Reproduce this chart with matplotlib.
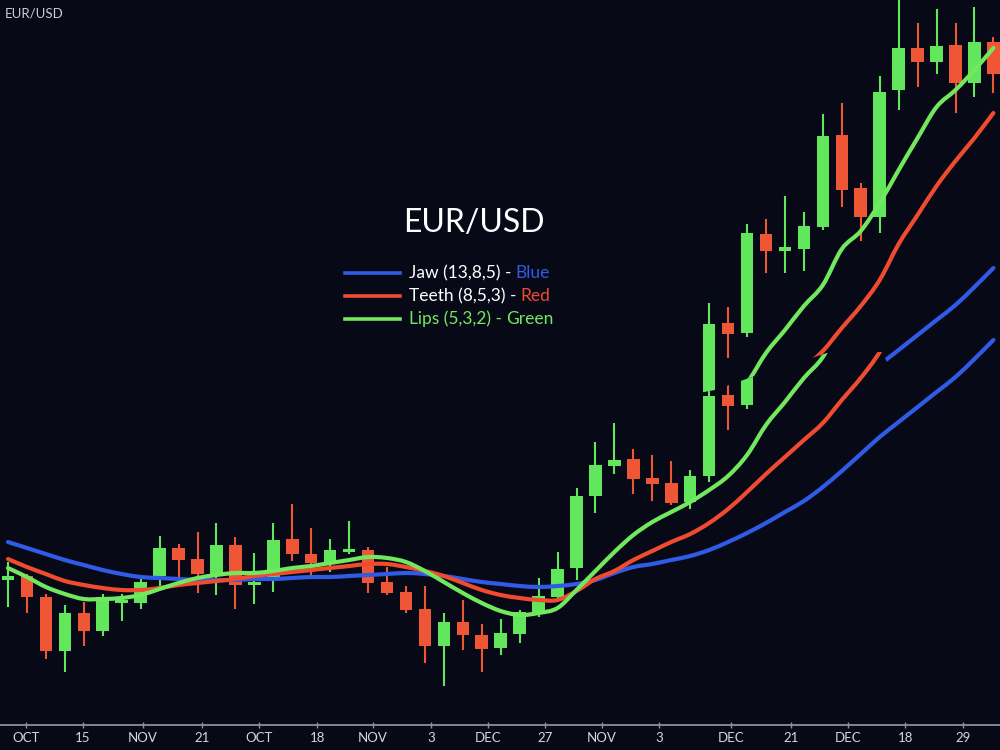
import matplotlib
matplotlib.use("Agg")
import matplotlib.pyplot as plt
from matplotlib.patches import Polygon, PathPatch
from matplotlib.path import Path
from matplotlib.lines import Line2D
import numpy as np

plt.rcParams['font.family'] = ['Lato', 'DejaVu Sans']

# ---------------- data ----------------
opens = [1.0145, 1.0149, 1.0128, 1.0074, 1.0112, 1.0094, 1.0122, 1.0122, 1.0149, 1.0177,
         1.0166, 1.0151, 1.0180, 1.0140, 1.0148, 1.0186, 1.0171, 1.0162, 1.0173, 1.0175,
         1.0143, 1.0133, 1.0116, 1.0079, 1.0103, 1.0090, 1.0077, 1.0091, 1.0113, 1.0128,
         1.0157, 1.0229, 1.0259, 1.0266, 1.0247, 1.0242, 1.0223, 1.0249, 1.0330, 1.0320,
         1.0419, 1.0402, 1.0404, 1.0426, 1.0518, 1.0465, 1.0436, 1.0563, 1.0605, 1.0591,
         1.0608, 1.0570, 1.0611]
highs = [1.0163, 1.0151, 1.0131, 1.0120, 1.0123, 1.0131, 1.0131, 1.0150, 1.0189, 1.0181,
         1.0193, 1.0202, 1.0188, 1.0172, 1.0202, 1.0221, 1.0197, 1.0186, 1.0204, 1.0178,
         1.0158, 1.0139, 1.0139, 1.0112, 1.0125, 1.0101, 1.0106, 1.0115, 1.0147, 1.0173,
         1.0237, 1.0283, 1.0302, 1.0276, 1.0270, 1.0264, 1.0255, 1.0350, 1.0346, 1.0429,
         1.0434, 1.0457, 1.0441, 1.0539, 1.0550, 1.0470, 1.0577, 1.0658, 1.0630, 1.0644,
         1.0630, 1.0646, 1.0616]
lows = [1.0118, 1.0112, 1.0066, 1.0053, 1.0079, 1.0089, 1.0104, 1.0116, 1.0138, 1.0146,
        1.0132, 1.0130, 1.0116, 1.0121, 1.0133, 1.0164, 1.0150, 1.0153, 1.0171, 1.0132,
        1.0130, 1.0112, 1.0062, 1.0039, 1.0075, 1.0053, 1.0070, 1.0082, 1.0108, 1.0126,
        1.0145, 1.0212, 1.0251, 1.0231, 1.0224, 1.0220, 1.0216, 1.0243, 1.0295, 1.0316,
        1.0380, 1.0380, 1.0382, 1.0423, 1.0446, 1.0412, 1.0420, 1.0543, 1.0566, 1.0579,
        1.0540, 1.0556, 1.0560]
closes = [1.0149, 1.0128, 1.0074, 1.0112, 1.0094, 1.0128, 1.0124, 1.0143, 1.0177, 1.0165,
          1.0151, 1.0180, 1.0140, 1.0143, 1.0185, 1.0171, 1.0162, 1.0175, 1.0176, 1.0142,
          1.0132, 1.0115, 1.0079, 1.0103, 1.0090, 1.0076, 1.0092, 1.0113, 1.0129, 1.0156,
          1.0229, 1.0260, 1.0265, 1.0246, 1.0241, 1.0222, 1.0249, 1.0329, 1.0319, 1.0420,
          1.0402, 1.0406, 1.0427, 1.0517, 1.0463, 1.0436, 1.0561, 1.0605, 1.0591, 1.0607,
          1.0570, 1.0611, 1.0579]

jaw = [1.0183, 1.0177, 1.0171, 1.0165, 1.0160, 1.0155, 1.0151, 1.0148, 1.0147, 1.0146,
       1.0145, 1.0145, 1.0145, 1.0146, 1.0146, 1.0147, 1.0148, 1.0148, 1.0149, 1.0150,
       1.0151, 1.0152, 1.0151, 1.0149, 1.0146, 1.0143, 1.0141, 1.0139, 1.0138, 1.0139,
       1.0141, 1.0145, 1.0152, 1.0158, 1.0161, 1.0165, 1.0169, 1.0175, 1.0183, 1.0192,
       1.0202, 1.0213, 1.0224, 1.0238, 1.0254, 1.0271, 1.0288, 1.0303, 1.0318, 1.0333,
       1.0348, 1.0366, 1.0385]
teeth = [1.0166, 1.0158, 1.0151, 1.0144, 1.0140, 1.0137, 1.0135, 1.0135, 1.0137, 1.0140,
         1.0142, 1.0144, 1.0146, 1.0149, 1.0151, 1.0153, 1.0155, 1.0157, 1.0159, 1.0161,
         1.0161, 1.0158, 1.0154, 1.0149, 1.0142, 1.0135, 1.0130, 1.0127, 1.0125, 1.0125,
         1.0134, 1.0146, 1.0154, 1.0165, 1.0174, 1.0183, 1.0191, 1.0202, 1.0216, 1.0233,
         1.0251, 1.0268, 1.0285, 1.0302, 1.0325, 1.0347, 1.0373, 1.0409, 1.0438, 1.0467,
         1.0492, 1.0515, 1.0540]
lips = [1.0157, 1.0148, 1.0138, 1.0131, 1.0126, 1.0126, 1.0127, 1.0130, 1.0136, 1.0142,
        1.0147, 1.0150, 1.0152, 1.0152, 1.0154, 1.0157, 1.0159, 1.0162, 1.0165, 1.0168,
        1.0167, 1.0163, 1.0154, 1.0143, 1.0132, 1.0122, 1.0114, 1.0110, 1.0112, 1.0117,
        1.0135, 1.0154, 1.0173, 1.0190, 1.0203, 1.0213, 1.0223, 1.0235, 1.0249, 1.0270,
        1.0300, 1.0323, 1.0347, 1.0368, 1.0404, 1.0422, 1.0450, 1.0483, 1.0515, 1.0546,
        1.0563, 1.0583, 1.0605]

tick_positions = [0.95, 3.96, 7.12, 10.24, 13.25, 16.31, 19.26, 22.32, 25.33, 28.34,
                  31.35, 34.35, 38.15, 41.32, 44.33, 47.34, 50.40]
tick_labels = ["OCT", "15", "NOV", "21", "OCT", "18", "NOV", "3", "DEC", "27",
               "NOV", "3", "DEC", "21", "DEC", "18", "29"]

title = "EUR/USD"
corner_label = "EUR/USD"
legend_main = ["Jaw (13,8,5) -", "Teeth (8,5,3) -", "Lips (5,3,2) -"]
legend_tail = ["Blue", "Red", "Green"]

# the photographed screen shows an upper slice displaced by this amount
ghost_shift = 0.0072

# ---------------- style ----------------
BG = "#070a16"
UP = "#62e65c"
DOWN = "#ef5636"
BLUE = "#2f5be6"
RED = "#f04a30"
GREEN = "#72e85e"
W, H = 1000, 750

fig = plt.figure(figsize=(10, 7.5), dpi=100, facecolor=BG)
ax = fig.add_axes([0, 25 / H, 1, 725 / H], facecolor=BG)
ax.set_xlim(-8 / 18.95, 992 / 18.95)
ax.set_ylim(1.0000, 1.0725)


def px_poly(pts):
    return Polygon([(px / W, 1 - py / H) for px, py in pts], closed=True,
                   transform=fig.transFigure)


upper_clip = px_poly([(699, 0), (1000, 0), (1000, 300), (890, 368), (882, 352),
                      (827, 353), (752, 377), (715, 390), (699, 393)])
lower_clip = px_poly([(0, 0), (699, 0), (699, 393), (715, 390), (752, 377),
                      (827, 353), (882, 352), (890, 368), (1000, 300),
                      (1000, 760), (0, 760)])

x = np.arange(len(opens))


def smooth_path(xs, ys):
    """Catmull-Rom curve through the data points, as cubic Bezier segments."""
    pts = np.column_stack([xs, ys]).astype(float)
    ext = np.vstack([pts[0], pts, pts[-1]])
    verts = [tuple(pts[0])]
    codes = [Path.MOVETO]
    for k in range(len(pts) - 1):
        p0, p1, p2, p3 = ext[k], ext[k + 1], ext[k + 2], ext[k + 3]
        c1 = p1 + (p2 - p0) / 6.0
        c2 = p2 - (p3 - p1) / 6.0
        verts += [tuple(c1), tuple(c2), tuple(p2)]
        codes += [Path.CURVE4] * 3
    return Path(verts, codes)


def draw(shift, clip):
    o = np.array(opens) + shift
    h = np.array(highs) + shift
    l = np.array(lows) + shift
    c = np.array(closes) + shift
    cols = [UP if cc >= oo else DOWN for oo, cc in zip(o, c)]
    arts = []
    arts.append(ax.vlines(x, l, h, colors=cols, lw=1.5, zorder=2))
    bottoms = np.minimum(o, c)
    heights = np.maximum(np.abs(c - o), 0.0003)
    bars = ax.bar(x, heights, 0.66, bottom=bottoms, color=cols, linewidth=0, zorder=3)
    arts.extend(bars.patches)
    for z, (vals, col) in enumerate(((jaw, BLUE), (teeth, RED), (lips, GREEN))):
        patch = PathPatch(smooth_path(x, np.array(vals) + shift), fill=False,
                          edgecolor=col, lw=3.0, capstyle="round", zorder=4 + z * 0.1)
        ax.add_patch(patch)
        arts.append(patch)
    for a in arts:
        a.set_clip_path(clip)


draw(0.0, lower_clip)
draw(ghost_shift, upper_clip)

# axes styling
for s in ("left", "right", "top"):
    ax.spines[s].set_visible(False)
ax.spines["bottom"].set_color("#8c919b")
ax.spines["bottom"].set_linewidth(1.3)
ax.set_yticks([])
ax.set_xticks(tick_positions)
ax.set_xticklabels(tick_labels)
ax.tick_params(axis="x", colors="#8c919b", labelcolor="#d4d7de", labelsize=9.5,
               direction="inout", length=4, width=1, pad=3)

# texts
fig.text(5 / W, 1 - 14 / H, corner_label, color="#c9cdd6", fontsize=9.5,
         ha="left", va="center")
fig.text(474 / W, 1 - 223 / H, title, color="white", fontsize=23,
         ha="center", va="center")

rows_y = [273, 296, 319]
main_cols = ["white", "white", GREEN]
tail_cols = [BLUE, RED, GREEN]
line_cols = [BLUE, RED, GREEN]
for ry, m, t, mc, tc, lc in zip(rows_y, legend_main, legend_tail, main_cols,
                                tail_cols, line_cols):
    fy = 1 - ry / H
    fig.add_artist(Line2D([345 / W, 400 / W], [fy, fy], color=lc, lw=2.6,
                          transform=fig.transFigure))
    tx = fig.text(409 / W, fy, m, color=mc, fontsize=12.5, ha="left", va="center")
    fig.add_artist(matplotlib.text.Annotation(
        t, xy=(1, 0), xycoords=tx, xytext=(3, 0), textcoords="offset points",
        color=tc, fontsize=12.5, ha="left", va="bottom"))

fig.savefig("out.png", dpi=100, facecolor=BG)
